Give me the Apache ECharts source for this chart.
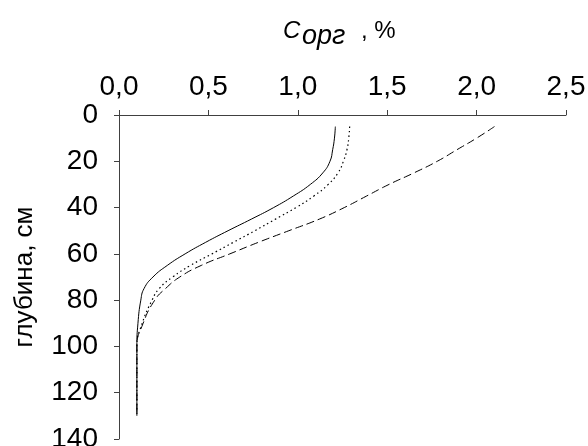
<!DOCTYPE html>
<html>
<head>
<meta charset="utf-8">
<script src="https://cdn.jsdelivr.net/npm/echarts@6/dist/echarts.min.js"></script>
<style>
    html, body { margin: 0; padding: 0; background: #fff; }
    #chart { width: 588px; height: 446px; }
</style>
</head>
<body>
<div id="chart"></div>
<script>
// глубина, см
var depth = [5, 10, 15, 20, 25, 30, 35, 40, 45, 50, 55, 60, 65, 70, 75, 80, 90, 100, 110, 120, 130];
// Cорг, % — три профиля
var solid  = [1.21, 1.205, 1.195, 1.18, 1.14, 1.07, 0.975, 0.865, 0.74, 0.61, 0.485, 0.37, 0.27, 0.19, 0.14, 0.122, 0.106, 0.1, 0.1, 0.1, 0.1];
var dotted = [1.29, 1.285, 1.275, 1.255, 1.225, 1.17, 1.09, 0.99, 0.875, 0.76, 0.64, 0.52, 0.40, 0.30, 0.225, 0.185, 0.13, 0.1, 0.1, 0.1, 0.1];
var dashed = [2.10, 2.00, 1.89, 1.78, 1.65, 1.51, 1.385, 1.26, 1.12, 0.95, 0.78, 0.62, 0.46, 0.34, 0.26, 0.20, 0.135, 0.1, 0.1, 0.1, 0.1];

var fontName = "'Liberation Sans', Arial, sans-serif";

function pairs(vals) {
    return vals.map(function (v, i) { return [v, depth[i]]; });
}

var chart = echarts.init(document.getElementById("chart"));
chart.setOption({
    animation: false,
    backgroundColor: "#fff",
    // заголовок оси X: Cорг , %
    graphic: [
        {
            type: "text",
            style: { x: 283, y: 31, text: "C", font: "italic 24px " + fontName, fill: "#000", verticalAlign: "middle" }
        },
        {
            type: "text",
            style: { x: 302, y: 36, text: "орг", font: "italic 27px " + fontName, fill: "#000", verticalAlign: "middle" }
        },
        {
            type: "text",
            style: { x: 361, y: 31, text: ", %", font: "24px " + fontName, fill: "#000", verticalAlign: "middle" }
        }
    ],
    grid: { left: 119, top: 115, right: 22, bottom: 7, outerBoundsMode: "none", containLabel: false },
    xAxis: {
        type: "value",
        position: "top",
        min: 0,
        max: 2.5,
        interval: 0.5,
        axisLine: { lineStyle: { color: "#404040", width: 1 } },
        axisTick: { show: true, inside: false, length: 5, lineStyle: { color: "#404040" } },
        splitLine: { show: false },
        axisLabel: {
            color: "#000",
            fontSize: 28,
            fontFamily: fontName,
            margin: 14,
            formatter: function (v) { return v.toFixed(1).replace(".", ","); }
        }
    },
    yAxis: {
        type: "value",
        inverse: true,
        min: 0,
        max: 140,
        interval: 20,
        name: "глубина, см",
        nameLocation: "middle",
        nameGap: 81,
        nameTextStyle: { color: "#000", fontSize: 26, fontFamily: fontName },
        axisLine: { show: true, lineStyle: { color: "#404040", width: 1 } },
        axisTick: { show: true, inside: false, length: 5, lineStyle: { color: "#404040" } },
        splitLine: { show: false },
        axisLabel: { color: "#000", fontSize: 28, fontFamily: fontName, margin: 21 }
    },
    series: [
        {
            type: "line",
            data: pairs(solid),
            smooth: 0.5,
            showSymbol: false,
            lineStyle: { color: "#000", width: 1, type: "solid" }
        },
        {
            type: "line",
            data: pairs(dotted),
            smooth: 0.5,
            showSymbol: false,
            lineStyle: { color: "#000", width: 1.2, type: [1.5, 3] }
        },
        {
            type: "line",
            data: pairs(dashed),
            smooth: 0.5,
            showSymbol: false,
            lineStyle: { color: "#000", width: 1, type: [8, 4] }
        }
    ]
});
</script>
</body>
</html>
